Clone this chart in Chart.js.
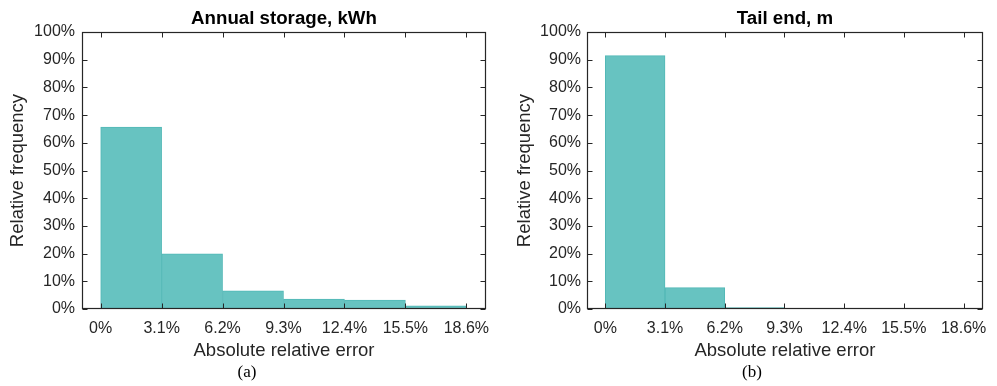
<!DOCTYPE html>
<html>
<head>
<meta charset="utf-8">
<script src="https://cdn.jsdelivr.net/npm/chart.js@4.4.1/dist/chart.umd.min.js"></script>
<style>
  html, body { margin: 0; padding: 0; background: #ffffff; }
  #wrap { position: relative; width: 997px; height: 386px; }
  canvas { position: absolute; top: 0; }
</style>
</head>
<body>
<div id="wrap">
  <canvas id="c1" width="500" height="386" style="left:0px"></canvas>
  <canvas id="c2" width="497" height="386" style="left:500px"></canvas>
</div>
<script>
// ---- data ----
const binEdges = [0, 3.1, 6.2, 9.3, 12.4, 15.5, 18.6];
const tickLabels = ['0%', '3.1%', '6.2%', '9.3%', '12.4%', '15.5%', '18.6%'];
const storageFreq = [65.7, 19.9, 6.6, 3.6, 3.2, 1.1];   // Annual storage, kWh (%)
const tailFreq = [91.5, 7.7, 0.5, 0.2, 0, 0];           // Tail end, m (%)
const titles = ['Annual storage, kWh', 'Tail end, m'];
const panelLabels = ['(a)', '(b)'];
const xTitle = 'Absolute relative error';
const yTitle = 'Relative frequency';

const AXIS = '#262626';
const FILL = '#67c3c1';
const EDGE = '#52b8b6';

const frameTicks = {
  id: 'frameTicks',
  afterDatasetsDraw(chart) {
    const {ctx, chartArea: a, scales} = chart;
    const L = Math.round(a.left) + 0.5, R = Math.round(a.right) - 0.5;
    const T = Math.round(a.top) + 0.5, B = Math.round(a.bottom) - 0.5;
    const len = 5;
    ctx.save();
    ctx.strokeStyle = AXIS;
    ctx.lineWidth = 1;
    ctx.beginPath();
    scales.x.ticks.forEach(t => {
      const px = Math.round(scales.x.getPixelForValue(t.value)) + 0.5;
      ctx.moveTo(px, B); ctx.lineTo(px, B - len);
      ctx.moveTo(px, T); ctx.lineTo(px, T + len);
    });
    scales.y.ticks.forEach(t => {
      const py = Math.round(scales.y.getPixelForValue(t.value)) + 0.5;
      ctx.moveTo(L, py); ctx.lineTo(L + len, py);
      ctx.moveTo(R, py); ctx.lineTo(R - len, py);
    });
    ctx.stroke();
    ctx.lineWidth = 1.2;
    ctx.strokeRect(L, T, R - L, B - T);
    ctx.restore();
  }
};

function makeChart(id, values, title, panel, cfg) {
  const pts = values.map((v, i) => ({ x: (binEdges[i] + binEdges[i + 1]) / 2, y: v }));
  return new Chart(document.getElementById(id), {
    type: 'bar',
    data: {
      datasets: [{
        data: pts,
        backgroundColor: FILL,
        borderColor: EDGE,
        borderWidth: 1,
        barPercentage: 1,
        categoryPercentage: 1
      }]
    },
    options: {
      responsive: false,
      animation: false,
      devicePixelRatio: 1,
      layout: { padding: { left: cfg.padLeft, right: cfg.padRight, top: 0, bottom: 0 } },
      plugins: {
        legend: { display: false },
        tooltip: { enabled: false },
        title: {
          display: true, text: title, fullSize: false, color: '#000000',
          font: { family: 'Liberation Sans', size: 18.7, weight: 'bold', lineHeight: 1.2 },
          padding: { top: 8, bottom: 1.6 }
        },
        subtitle: {
          display: true, text: panel, position: 'bottom', fullSize: true, color: '#000000',
          font: { family: 'Liberation Serif', size: 17, weight: 'normal', lineHeight: 1.2 },
          padding: { top: 0, bottom: 2.8 }
        }
      },
      scales: {
        x: {
          type: 'linear',
          offset: false,
          min: -0.95,
          max: 19.6,
          afterBuildTicks(scale) { scale.ticks = binEdges.map(v => ({ value: v })); },
          afterFit(scale) { scale.height = 53.8; },
          grid: { display: false, drawTicks: false },
          border: { display: false },
          ticks: {
            autoSkip: false, maxRotation: 0, padding: 10, color: AXIS,
            font: { family: 'Liberation Sans', size: 16 },
            callback: (v, i) => tickLabels[i]
          },
          title: {
            display: true, text: xTitle, color: AXIS,
            font: { family: 'Liberation Sans', size: 18.5, lineHeight: 1.2 },
            padding: { top: 2, bottom: 0.7 }
          }
        },
        y: {
          min: 0,
          max: 100,
          afterFit(scale) { scale.width = cfg.yWidth; },
          grid: { display: false, drawTicks: false },
          border: { display: false },
          ticks: {
            stepSize: 10, padding: cfg.yTickPad, color: AXIS,
            font: { family: 'Liberation Sans', size: 16 },
            callback: v => v + '%'
          },
          title: {
            display: true, text: yTitle, color: AXIS,
            font: { family: 'Liberation Sans', size: 18.5, lineHeight: 1.2 },
            padding: { top: cfg.yTitlePad, bottom: 0 }
          }
        },
        yRight: {
          position: 'right',
          display: true,
          min: 0,
          max: 100,
          afterFit(scale) { scale.width = cfg.rightGap; },
          grid: { display: false, drawTicks: false },
          border: { display: false },
          ticks: { display: false }
        }
      }
    },
    plugins: [frameTicks]
  });
}

makeChart('c1', storageFreq, titles[0], panelLabels[0],
  { padLeft: 0, padRight: 6, rightGap: 8, yWidth: 82, yTitlePad: 6.9, yTickPad: 7 });
makeChart('c2', tailFreq, titles[1], panelLabels[1],
  { padLeft: 7, padRight: 0, rightGap: 6, yWidth: 80, yTitlePad: 6.9, yTickPad: 6 });
</script>
</body>
</html>
